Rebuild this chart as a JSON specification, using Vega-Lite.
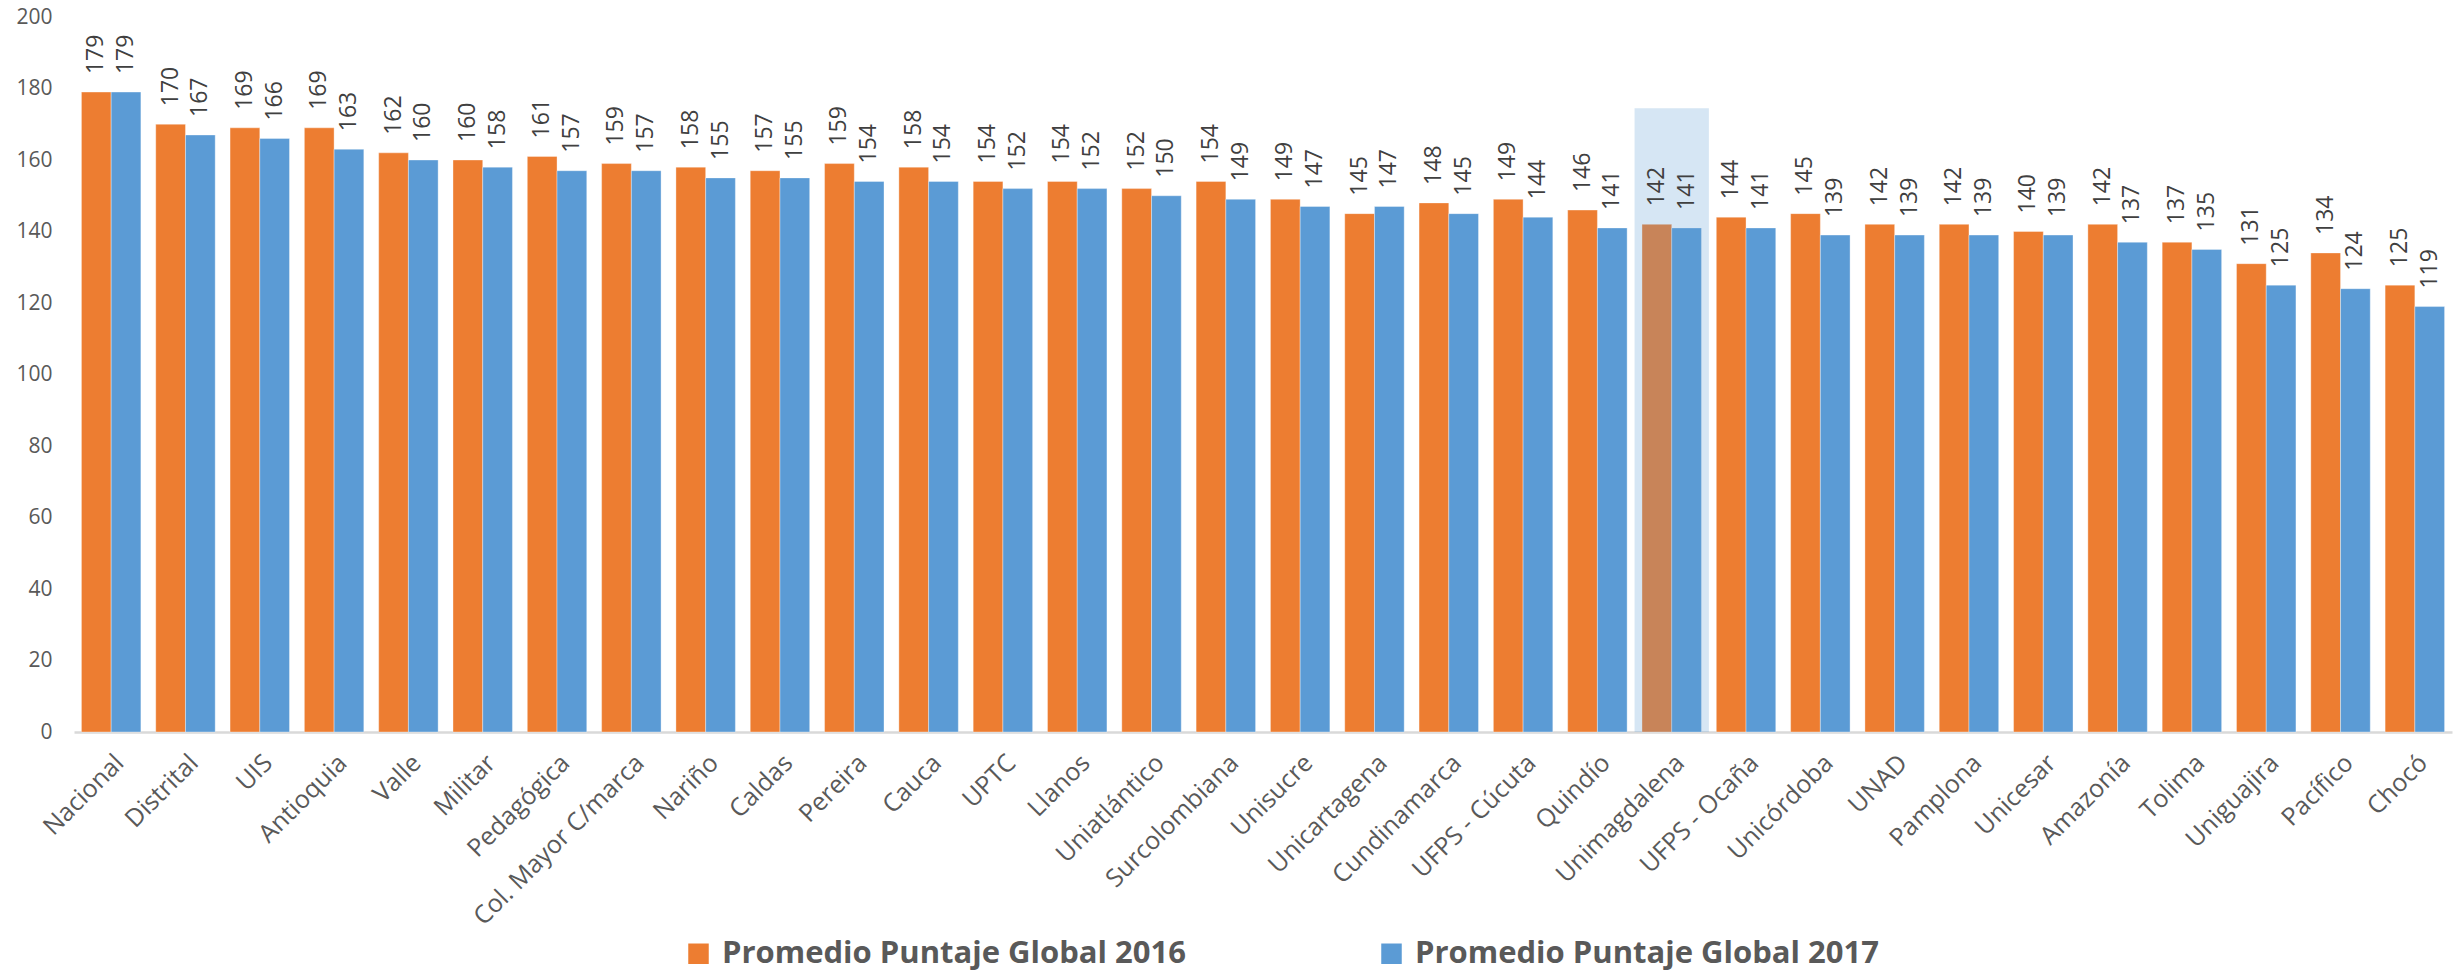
{
  "$schema": "https://vega.github.io/schema/vega-lite/v6.json",
  "width": 2378,
  "height": 715,
  "autosize": {"type": "none"},
  "padding": {"left": 74, "top": 17, "right": 1, "bottom": 239},
  "background": "white",
  "config": {"font": "Open Sans", "view": {"stroke": null}},
  "datasets": {
    "puntajes": [
      {"universidad": "Nacional", "serie": "Promedio Puntaje Global 2016", "puntaje": 179},
      {"universidad": "Nacional", "serie": "Promedio Puntaje Global 2017", "puntaje": 179},
      {"universidad": "Distrital", "serie": "Promedio Puntaje Global 2016", "puntaje": 170},
      {"universidad": "Distrital", "serie": "Promedio Puntaje Global 2017", "puntaje": 167},
      {"universidad": "UIS", "serie": "Promedio Puntaje Global 2016", "puntaje": 169},
      {"universidad": "UIS", "serie": "Promedio Puntaje Global 2017", "puntaje": 166},
      {"universidad": "Antioquia", "serie": "Promedio Puntaje Global 2016", "puntaje": 169},
      {"universidad": "Antioquia", "serie": "Promedio Puntaje Global 2017", "puntaje": 163},
      {"universidad": "Valle", "serie": "Promedio Puntaje Global 2016", "puntaje": 162},
      {"universidad": "Valle", "serie": "Promedio Puntaje Global 2017", "puntaje": 160},
      {"universidad": "Militar", "serie": "Promedio Puntaje Global 2016", "puntaje": 160},
      {"universidad": "Militar", "serie": "Promedio Puntaje Global 2017", "puntaje": 158},
      {"universidad": "Pedagógica", "serie": "Promedio Puntaje Global 2016", "puntaje": 161},
      {"universidad": "Pedagógica", "serie": "Promedio Puntaje Global 2017", "puntaje": 157},
      {"universidad": "Col. Mayor C/marca", "serie": "Promedio Puntaje Global 2016", "puntaje": 159},
      {"universidad": "Col. Mayor C/marca", "serie": "Promedio Puntaje Global 2017", "puntaje": 157},
      {"universidad": "Nariño", "serie": "Promedio Puntaje Global 2016", "puntaje": 158},
      {"universidad": "Nariño", "serie": "Promedio Puntaje Global 2017", "puntaje": 155},
      {"universidad": "Caldas", "serie": "Promedio Puntaje Global 2016", "puntaje": 157},
      {"universidad": "Caldas", "serie": "Promedio Puntaje Global 2017", "puntaje": 155},
      {"universidad": "Pereira", "serie": "Promedio Puntaje Global 2016", "puntaje": 159},
      {"universidad": "Pereira", "serie": "Promedio Puntaje Global 2017", "puntaje": 154},
      {"universidad": "Cauca", "serie": "Promedio Puntaje Global 2016", "puntaje": 158},
      {"universidad": "Cauca", "serie": "Promedio Puntaje Global 2017", "puntaje": 154},
      {"universidad": "UPTC", "serie": "Promedio Puntaje Global 2016", "puntaje": 154},
      {"universidad": "UPTC", "serie": "Promedio Puntaje Global 2017", "puntaje": 152},
      {"universidad": "Llanos", "serie": "Promedio Puntaje Global 2016", "puntaje": 154},
      {"universidad": "Llanos", "serie": "Promedio Puntaje Global 2017", "puntaje": 152},
      {"universidad": "Uniatlántico", "serie": "Promedio Puntaje Global 2016", "puntaje": 152},
      {"universidad": "Uniatlántico", "serie": "Promedio Puntaje Global 2017", "puntaje": 150},
      {"universidad": "Surcolombiana", "serie": "Promedio Puntaje Global 2016", "puntaje": 154},
      {"universidad": "Surcolombiana", "serie": "Promedio Puntaje Global 2017", "puntaje": 149},
      {"universidad": "Unisucre", "serie": "Promedio Puntaje Global 2016", "puntaje": 149},
      {"universidad": "Unisucre", "serie": "Promedio Puntaje Global 2017", "puntaje": 147},
      {"universidad": "Unicartagena", "serie": "Promedio Puntaje Global 2016", "puntaje": 145},
      {"universidad": "Unicartagena", "serie": "Promedio Puntaje Global 2017", "puntaje": 147},
      {"universidad": "Cundinamarca", "serie": "Promedio Puntaje Global 2016", "puntaje": 148},
      {"universidad": "Cundinamarca", "serie": "Promedio Puntaje Global 2017", "puntaje": 145},
      {"universidad": "UFPS - Cúcuta", "serie": "Promedio Puntaje Global 2016", "puntaje": 149},
      {"universidad": "UFPS - Cúcuta", "serie": "Promedio Puntaje Global 2017", "puntaje": 144},
      {"universidad": "Quindío", "serie": "Promedio Puntaje Global 2016", "puntaje": 146},
      {"universidad": "Quindío", "serie": "Promedio Puntaje Global 2017", "puntaje": 141},
      {"universidad": "Unimagdalena", "serie": "Promedio Puntaje Global 2016", "puntaje": 142},
      {"universidad": "Unimagdalena", "serie": "Promedio Puntaje Global 2017", "puntaje": 141},
      {"universidad": "UFPS - Ocaña", "serie": "Promedio Puntaje Global 2016", "puntaje": 144},
      {"universidad": "UFPS - Ocaña", "serie": "Promedio Puntaje Global 2017", "puntaje": 141},
      {"universidad": "Unicórdoba", "serie": "Promedio Puntaje Global 2016", "puntaje": 145},
      {"universidad": "Unicórdoba", "serie": "Promedio Puntaje Global 2017", "puntaje": 139},
      {"universidad": "UNAD", "serie": "Promedio Puntaje Global 2016", "puntaje": 142},
      {"universidad": "UNAD", "serie": "Promedio Puntaje Global 2017", "puntaje": 139},
      {"universidad": "Pamplona", "serie": "Promedio Puntaje Global 2016", "puntaje": 142},
      {"universidad": "Pamplona", "serie": "Promedio Puntaje Global 2017", "puntaje": 139},
      {"universidad": "Unicesar", "serie": "Promedio Puntaje Global 2016", "puntaje": 140},
      {"universidad": "Unicesar", "serie": "Promedio Puntaje Global 2017", "puntaje": 139},
      {"universidad": "Amazonía", "serie": "Promedio Puntaje Global 2016", "puntaje": 142},
      {"universidad": "Amazonía", "serie": "Promedio Puntaje Global 2017", "puntaje": 137},
      {"universidad": "Tolima", "serie": "Promedio Puntaje Global 2016", "puntaje": 137},
      {"universidad": "Tolima", "serie": "Promedio Puntaje Global 2017", "puntaje": 135},
      {"universidad": "Uniguajira", "serie": "Promedio Puntaje Global 2016", "puntaje": 131},
      {"universidad": "Uniguajira", "serie": "Promedio Puntaje Global 2017", "puntaje": 125},
      {"universidad": "Pacífico", "serie": "Promedio Puntaje Global 2016", "puntaje": 134},
      {"universidad": "Pacífico", "serie": "Promedio Puntaje Global 2017", "puntaje": 124},
      {"universidad": "Chocó", "serie": "Promedio Puntaje Global 2016", "puntaje": 125},
      {"universidad": "Chocó", "serie": "Promedio Puntaje Global 2017", "puntaje": 119}
    ],
    "resaltado": [{"universidad": "Unimagdalena"}]
  },
  "layer": [
    {
      "data": {"name": "puntajes"},
      "mark": {"type": "bar", "stroke": "#ffffff", "strokeOpacity": 0.35, "strokeWidth": 1},
      "encoding": {
        "x": {
          "field": "universidad", "type": "nominal", "sort": null,
          "scale": {"paddingInner": 0.2, "paddingOuter": 0.1},
          "axis": {
            "title": null, "labelAngle": -45, "labelFontSize": 25, "labelColor": "#595959",
            "ticks": false, "domainColor": "#D9D9D9", "domainWidth": 2.5,
            "labelPadding": 18, "labelLimit": 400
          }
        },
        "xOffset": {"field": "serie", "type": "nominal"},
        "y": {
          "field": "puntaje", "type": "quantitative",
          "scale": {"domain": [0, 200]},
          "axis": {
            "title": null, "values": [0, 20, 40, 60, 80, 100, 120, 140, 160, 180, 200],
            "domain": false, "ticks": false, "grid": false,
            "labelFontSize": 21, "labelColor": "#595959", "labelPadding": 22
          }
        },
        "color": {
          "field": "serie", "type": "nominal",
          "scale": {"domain": ["Promedio Puntaje Global 2016", "Promedio Puntaje Global 2017"], "range": ["#ED7D31", "#5B9BD5"]},
          "legend": {
            "title": null, "orient": "none", "direction": "horizontal",
            "legendX": 609, "legendY": 921,
            "symbolType": "square", "symbolSize": 420, "symbolStrokeWidth": 0,
            "labelFontSize": 31, "labelFontWeight": "bold", "labelColor": "#595959",
            "labelOffset": 8, "labelLimit": 700, "columnPadding": 190
          }
        }
      }
    },
    {
      "data": {"name": "resaltado"},
      "mark": {"type": "bar", "color": "#5B9BD5", "opacity": 0.25, "width": {"band": 1.25}},
      "encoding": {
        "x": {"field": "universidad", "type": "nominal", "sort": null},
        "y": {"datum": 174.5},
        "y2": {"datum": 0}
      }
    },
    {
      "data": {"name": "puntajes"},
      "mark": {"type": "text", "angle": 270, "align": "left", "baseline": "middle", "dx": 18, "fontSize": 23, "color": "#404040"},
      "encoding": {
        "x": {"field": "universidad", "type": "nominal", "sort": null},
        "xOffset": {"field": "serie", "type": "nominal"},
        "y": {"field": "puntaje", "type": "quantitative"},
        "text": {"field": "puntaje", "type": "quantitative"}
      }
    }
  ]
}
